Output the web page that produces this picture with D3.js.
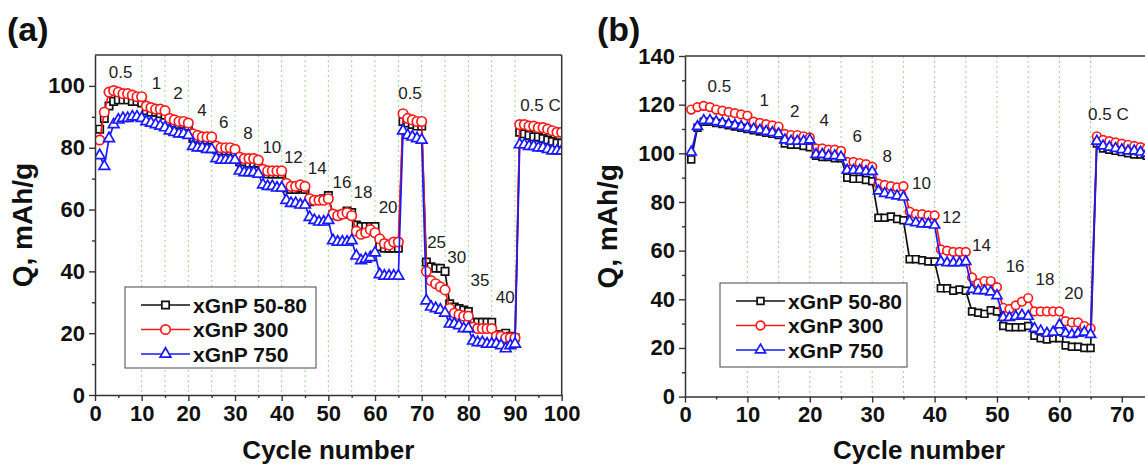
<!DOCTYPE html>
<html>
<head>
<meta charset="utf-8">
<script src="https://cdn.jsdelivr.net/npm/d3@7/dist/d3.min.js"></script>
<style>
  html, body { margin: 0; padding: 0; background: #ffffff; }
  svg text { font-family: Arial, "Liberation Sans", Helvetica, sans-serif; }
</style>
</head>
<body>
<script>
// ---------- series ----------
const seriesNames  = ["xGnP 50-80", "xGnP 300", "xGnP 750"];
const seriesColors = ["#111111", "#ff1a1a", "#1a1aff"];
const seriesShapes = ["square", "circle", "triangle"];

// Panel (a): specific capacity per cycle (cycle 1..100), mAh/g
const capA_50_80 = [
  86, 89.5, 93.5, 95, 95.5, 95.5, 95.5, 95, 95, 94.5,
  92, 91.5, 91.5, 91, 90.5,
  88.5, 88, 87.5, 87.5, 87,
  83, 83, 82.5, 82.5, 82.5,
  79.5, 79, 79, 79, 78.5,
  75.5, 75.5, 75, 75, 75,
  72, 71.5, 71.5, 71.5, 71.5,
  67, 66.5, 66.5, 67, 66.5,
  62.5, 63, 63, 63.5, 64.5,
  58.5, 58, 58.5, 59.5, 59,
  55, 54.5, 54.5, 54.5, 54.5,
  48, 47.5, 47.5, 47.5, 47.5,
  88.5, 88, 87.5, 87, 87,
  43, 41.5, 41, 41, 40,
  29.5, 28.5, 28, 27.5, 27,
  23.5, 23.5, 23.5, 23.5, 23.5,
  19.5, 19.5, 20, 19, 18.5,
  85, 84.5, 84, 83.5, 83.5, 83, 82.5, 82, 81.5, 81.5
];
const capA_300 = [
  82.5, 91.5, 98, 98.5, 98, 97.5, 97.5, 97, 96.5, 96.5,
  93.5, 93, 92.5, 92.5, 92,
  89.5, 89, 88.5, 88.5, 88,
  84.5, 84, 83.5, 83.5, 83.5,
  80.5, 80, 80, 80, 79.5,
  77, 76.5, 76.5, 76.5, 76,
  73, 72.5, 72.5, 72.5, 72.5,
  68.5, 67.5, 67.5, 68, 67.5,
  63.5, 63, 63, 63, 63.5,
  58.5, 58, 58.5, 59, 58,
  53, 52, 52.5, 53.5, 52.5,
  50.5, 49, 48.5, 49.5, 49.5,
  91, 89.5, 89, 88.5, 88.5,
  40, 37, 36, 35, 34,
  28, 26.5, 26, 25.5, 25.5,
  22, 21.5, 21.5, 21.5, 21.5,
  19, 19, 18.5, 18.5, 18.5,
  87.5, 87.5, 87, 87, 86.5, 86.5, 86, 85.5, 85, 85
];
const capA_750 = [
  77.5, 74, 83, 87.5, 89, 89.5, 89.5, 90, 90, 89.5,
  88.5, 88, 87.5, 87, 86.5,
  85.5, 85, 84.5, 84.5, 84,
  80.5, 80, 80, 79.5, 79.5,
  76.5, 76, 76, 76, 76,
  72.5, 72, 72, 72, 71.5,
  68, 67.5, 67.5, 67, 67,
  63, 62, 62, 61.5, 61.5,
  57.5, 56.5, 56, 56, 56.5,
  50, 49.5, 49.5, 49.5, 50,
  45, 43.5, 44, 44.5, 46,
  39, 38.5, 38.5, 38.5, 38.5,
  85.5, 84, 83.5, 83, 82.5,
  30.5, 28.5, 28, 27.5, 26.5,
  23, 23, 22.5, 21.5, 21.5,
  17.5, 17, 17, 16.5, 16.5,
  16.5, 16, 15, 16, 16.5,
  81, 81, 80.5, 80.5, 80, 80, 79.5, 79, 79, 79
];

// Panel (b): specific capacity per cycle (cycle 1..80), mAh/g
const capB_50_80 = [
  97.5, 110.5, 113, 113, 112.5, 112, 111.5, 111, 110.5, 110,
  109.5, 109, 108.5, 108, 107.5,
  104, 103.5, 103.5, 103, 102.5,
  99, 98.5, 98.5, 98, 98,
  90, 89.5, 89.5, 89, 88.5,
  73.5, 73.5, 74, 73, 72.5,
  56.5, 56.5, 56, 55.5, 55.5,
  44.5, 44.5, 43.5, 44, 43.5,
  35, 34.5, 34, 35.5, 35,
  29, 28.5, 28.5, 28.5, 29,
  25, 24, 23.5, 24, 24,
  21, 20.5, 20.5, 20, 20,
  104, 102, 101.5, 101, 100.5, 100, 99.5, 99.5, 99, 98.5, 98.5, 98, 98, 97.5, 97.5
];
const capB_300 = [
  118, 119, 119.5, 119, 118, 117.5, 117, 116.5, 116, 115.5,
  113, 112.5, 112, 111.5, 111,
  108, 107.5, 107.5, 107, 106.5,
  102, 102, 101.5, 101.5, 101,
  96.5, 96.5, 96, 95.5, 94.5,
  87.5, 87, 86.5, 86, 86.5,
  76, 75, 75, 74.5, 74.5,
  60.5, 60, 59.5, 59.5, 59.5,
  49, 46.5, 47.5, 47.5, 45,
  36.5, 36, 37.5, 39, 40.5,
  35, 35, 35, 35, 35,
  31, 30.5, 30.5, 29, 28,
  107, 105.5, 105, 104.5, 104, 103.5, 103, 102.5, 102, 101.5, 101, 101, 100.5, 100, 100
];
const capB_750 = [
  100.5, 111, 113.5, 113.5, 113, 112.5, 112, 111.5, 111, 110.5,
  110, 109.5, 109, 108.5, 108,
  105.5, 105, 105, 105, 105.5,
  99.5, 99.5, 99, 99, 98.5,
  93, 93, 93, 92.5, 92.5,
  84.5, 83.5, 83, 82.5, 82,
  72, 71.5, 71, 71, 70.5,
  55.5, 55, 55, 55, 55.5,
  44, 43.5, 43.5, 43, 41.5,
  32.5, 32.5, 33, 33.5, 33,
  28, 27, 26, 26.5, 29.5,
  26, 25.5, 26, 26.5, 25.5,
  105, 103, 102.5, 102, 101.5, 101, 101, 100.5, 100, 100, 99.5, 99.5, 99, 99, 98.5
];

// C-rate annotations: text, cycle, capacity (data coordinates)
const rateTextA  = ["0.5", "1", "2", "4", "6", "8", "10", "12", "14", "16", "18", "20", "0.5", "25", "30", "35", "40", "0.5 C"];
const rateCycleA = [5.5, 13.2, 17.8, 22.9, 27.6, 32.8, 37.9, 42.5, 47.6, 52.9, 57.4, 62.8, 67.5, 73.2, 77.5, 82.5, 87.9, 91.1];
const rateCapA   = [104.5, 101, 97.7, 92.2, 88.4, 84.8, 80.3, 77.1, 73.4, 69, 65.8, 60.9, 97.7, 49.6, 44.7, 37.2, 31.8, 93.8];

const rateTextB  = ["0.5", "1", "2", "4", "6", "8", "10", "12", "14", "16", "18", "20", "0.5 C"];
const rateCycleB = [5.5, 12.7, 17.6, 22.3, 27.6, 32.4, 37.9, 42.7, 47.5, 52.9, 57.7, 62.3, 64.6];
const rateCapB   = [127.5, 122, 117.2, 113.5, 107.2, 99, 87.8, 74, 62.4, 53.7, 48.3, 42.5, 116.3];

// Axis ticks
const xTicksA = [0, 10, 20, 30, 40, 50, 60, 70, 80, 90, 100];
const xMinorA = [5, 15, 25, 35, 45, 55, 65, 75, 85, 95];
const yTicksA = [0, 20, 40, 60, 80, 100];
const yMinorA = [10, 30, 50, 70, 90];
const gridA   = [10, 15, 20, 25, 30, 35, 40, 45, 50, 55, 60, 65, 70, 75, 80, 85, 90];

const xTicksB = [0, 10, 20, 30, 40, 50, 60, 70];
const xMinorB = [5, 15, 25, 35, 45, 55, 65, 75];
const yTicksB = [0, 20, 40, 60, 80, 100, 120, 140];
const yMinorB = [10, 30, 50, 70, 90, 110, 130];
const gridB   = [10, 15, 20, 25, 30, 35, 40, 45, 50, 55, 60, 65];

// ---------- drawing ----------
const W = 1145, H = 468;
const svg = d3.select("body").append("svg")
  .attr("width", W).attr("height", H)
  .attr("viewBox", `0 0 ${W} ${H}`);

const symbolType = { square: d3.symbolSquare, circle: d3.symbolCircle, triangle: d3.symbolTriangle };

function drawPanel(p) {
  const x = d3.scaleLinear().domain([0, p.xMax]).range([p.left, p.right]);
  const y = d3.scaleLinear().domain([0, p.yMax]).range([p.bottom, p.top]);
  const g = svg.append("g");

  const clipId = "clip-" + p.id;
  svg.append("defs").append("clipPath").attr("id", clipId)
    .append("rect").attr("x", p.left).attr("y", p.top - 8)
    .attr("width", p.right - p.left).attr("height", p.bottom - p.top + 8);

  // dotted vertical separators between rate steps
  g.selectAll("line.grid").data(p.grid).join("line")
    .attr("class", "grid")
    .attr("x1", d => x(d)).attr("x2", d => x(d))
    .attr("y1", p.top).attr("y2", p.bottom)
    .attr("stroke", "#9bd68f").attr("stroke-width", 1)
    .attr("stroke-dasharray", "2,3");

  // series: line + open markers
  const plot = g.append("g").attr("clip-path", `url(#${clipId})`);
  p.series.forEach((vals, si) => {
    const pts = vals.map((v, i) => [i + 1, v]);
    plot.append("path")
      .attr("d", d3.line().x(d => x(d[0])).y(d => y(d[1]))(pts))
      .attr("fill", "none")
      .attr("stroke", seriesColors[si])
      .attr("stroke-width", 1.7)
      .attr("stroke-linejoin", "round");
    const sym = d3.symbol().type(symbolType[seriesShapes[si]]).size(p.markerSize[si]);
    plot.selectAll(null).data(pts).join("path")
      .attr("transform", d => `translate(${x(d[0])},${y(d[1])})`)
      .attr("d", sym)
      .attr("fill", "#ffffff")
      .attr("stroke", seriesColors[si])
      .attr("stroke-width", 1.7);
  });

  // frame
  g.append("line").attr("x1", p.left).attr("x2", p.right).attr("y1", p.top).attr("y2", p.top)
    .attr("stroke", "#333").attr("stroke-width", 1.5);
  g.append("line").attr("x1", p.right).attr("x2", p.right).attr("y1", p.top).attr("y2", p.bottom)
    .attr("stroke", "#333").attr("stroke-width", 1.5);

  // axes
  const styleAxis = sel => {
    sel.select(".domain").attr("stroke", "#333").attr("stroke-width", 1.5);
    sel.selectAll(".tick line").attr("stroke", "#333").attr("stroke-width", 1.4);
    sel.selectAll(".tick text")
      .attr("fill", "#111").attr("font-size", 22).attr("font-weight", "bold");
  };
  const xAxis = g.append("g").attr("transform", `translate(0,${p.bottom})`)
    .call(d3.axisBottom(x).tickValues(p.xTicks).tickSize(6).tickSizeOuter(0).tickPadding(4).tickFormat(d3.format("d")));
  styleAxis(xAxis);
  const xMinor = g.append("g").attr("transform", `translate(0,${p.bottom})`)
    .call(d3.axisBottom(x).tickValues(p.xMinor.filter(v => v <= p.xMax)).tickSize(3).tickSizeOuter(0).tickFormat(""));
  styleAxis(xMinor);
  xMinor.select(".domain").remove();

  const yAxis = g.append("g").attr("transform", `translate(${p.left},0)`)
    .call(d3.axisLeft(y).tickValues(p.yTicks).tickSize(6).tickSizeOuter(0).tickPadding(4).tickFormat(d3.format("d")));
  styleAxis(yAxis);
  const yMinor = g.append("g").attr("transform", `translate(${p.left},0)`)
    .call(d3.axisLeft(y).tickValues(p.yMinor).tickSize(3).tickSizeOuter(0).tickFormat(""));
  styleAxis(yMinor);
  yMinor.select(".domain").remove();

  // axis titles
  g.append("text")
    .attr("x", (p.left + p.right) / 2).attr("y", 459)
    .attr("text-anchor", "middle")
    .attr("font-size", 26).attr("font-weight", "bold").attr("fill", "#111")
    .text("Cycle number");
  g.append("text")
    .attr("transform", `translate(${p.yTitleX},${(p.top + p.bottom) / 2}) rotate(-90)`)
    .attr("text-anchor", "middle")
    .attr("font-size", 28).attr("font-weight", "bold").attr("fill", "#111")
    .text("Q, mAh/g");

  // panel letter
  g.append("text").attr("x", p.letterX).attr("y", 41)
    .attr("font-size", 34).attr("font-weight", "bold").attr("fill", "#111")
    .text(p.letter);

  // rate annotations
  g.selectAll("text.rate").data(p.rateText).join("text")
    .attr("class", "rate")
    .attr("x", (d, i) => x(p.rateCycle[i]))
    .attr("y", (d, i) => y(p.rateCap[i]))
    .attr("dy", "0.35em")
    .attr("text-anchor", (d, i) => d === "0.5 C" ? "start" : "middle")
    .attr("font-size", 17).attr("fill", "#222")
    .text(d => d);

  // legend
  const lg = g.append("g");
  lg.append("rect")
    .attr("x", p.legend.x).attr("y", p.legend.y)
    .attr("width", p.legend.w).attr("height", p.legend.h)
    .attr("fill", "#fff").attr("stroke", "#666").attr("stroke-width", 1.2);
  seriesNames.forEach((name, si) => {
    const cy = p.legend.y + 18 + si * 24.5;
    lg.append("line")
      .attr("x1", p.legend.x + 16).attr("x2", p.legend.x + 65)
      .attr("y1", cy).attr("y2", cy)
      .attr("stroke", seriesColors[si]).attr("stroke-width", 1.7);
    lg.append("path")
      .attr("transform", `translate(${p.legend.x + 40.5},${cy})`)
      .attr("d", d3.symbol().type(symbolType[seriesShapes[si]]).size(p.markerSize[si])())
      .attr("fill", "#fff").attr("stroke", seriesColors[si]).attr("stroke-width", 1.7);
    lg.append("text")
      .attr("x", p.legend.x + 68).attr("y", cy).attr("dy", "0.36em")
      .attr("font-size", 21).attr("font-weight", "bold").attr("fill", "#111")
      .text(name);
  });
}

drawPanel({
  id: "a", letter: "(a)", letterX: 7,
  left: 95, right: 561.7, top: 55, bottom: 395,
  xMax: 100, yMax: 110,
  series: [capA_50_80, capA_300, capA_750],
  markerSize: [54, 70, 50],
  xTicks: xTicksA, xMinor: xMinorA, yTicks: yTicksA, yMinor: yMinorA, grid: gridA,
  rateText: rateTextA, rateCycle: rateCycleA, rateCap: rateCapA,
  yTitleX: 32,
  legend: { x: 125, y: 287, w: 191, h: 81 }
});

drawPanel({
  id: "b", letter: "(b)", letterX: 597,
  left: 685, right: 685 + 6.24 * 75, top: 56, bottom: 396.6,
  xMax: 75, yMax: 140,
  series: [capB_50_80, capB_300, capB_750],
  markerSize: [46, 58, 44],
  xTicks: xTicksB, xMinor: xMinorB, yTicks: yTicksB, yMinor: yMinorB, grid: gridB,
  rateText: rateTextB, rateCycle: rateCycleB, rateCap: rateCapB,
  yTitleX: 617,
  legend: { x: 720, y: 283, w: 187, h: 84 }
});
</script>
</body>
</html>
